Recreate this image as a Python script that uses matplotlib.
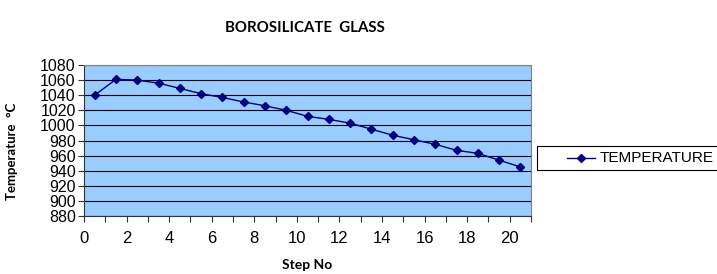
import matplotlib
matplotlib.use("Agg")
import matplotlib.pyplot as plt
from matplotlib.lines import Line2D
from matplotlib.patches import Rectangle
import numpy as np

# data
step_pos = np.arange(21) + 0.5
temperature = [1040, 1061, 1060, 1056, 1049, 1042, 1037, 1031, 1026, 1020,
               1012, 1008, 1003, 995, 987, 981, 975, 967, 963, 954, 945]
y_ticks = list(range(880, 1081, 20))
x_labels = [0, 2, 4, 6, 8, 10, 12, 14, 16, 18, 20]
series_name = "TEMPERATURE"

W, H = 717, 274
fig = plt.figure(figsize=(W / 100, H / 100), dpi=100)
ax = fig.add_axes([84 / W, 1 - 216 / H, (531 - 84) / W, (216 - 65) / H])
ax.set_facecolor("#99CCFF")

line_color = "#000080"
ax.plot(step_pos, temperature, color=line_color, linewidth=1,
        marker="D", markersize=4, label=series_name)

ax.set_xlim(0, 21)
ax.set_ylim(880, 1080)
ax.set_yticks(y_ticks)
ax.set_xticks(range(22))
ax.set_xticklabels([str(i) if i in x_labels else "" for i in range(22)])
ax.yaxis.grid(True, color="black", linewidth=0.8)
ax.set_axisbelow(True)
ax.tick_params(axis="both", direction="out", length=4, width=0.8,
               color="#333333")
ax.tick_params(axis="x", pad=7, labelsize=12)
ax.tick_params(axis="y", pad=2, labelsize=11.5)
for lbl in ax.get_xticklabels() + ax.get_yticklabels():
    lbl.set_fontfamily("Liberation Sans")

for side in ["top", "right"]:
    ax.spines[side].set_color("#808080")
for side in ["left", "bottom"]:
    ax.spines[side].set_color("#333333")

ax.set_ylabel("Temperature  °C", fontfamily="Lato", fontweight="bold",
              fontsize=9.5)
ax.yaxis.set_label_coords(-0.148, 0.43)
ax.set_xlabel("Step No", fontfamily="Lato", fontweight="bold", fontsize=10,
              labelpad=9)
fig.text(305 / W, 1 - 28 / H, "BOROSILICATE  GLASS", ha="center", va="center",
         fontfamily="Lato", fontweight="bold", fontsize=10.8)

# legend box drawn like the spreadsheet one (runs off the right edge)
fig.patches.append(Rectangle((537 / W, 1 - 170 / H), 200 / W, 24 / H,
                             transform=fig.transFigure, fill=False,
                             edgecolor="black", linewidth=0.8))
fig.add_artist(Line2D([567 / W, 595 / W], [1 - 158 / H] * 2,
                      transform=fig.transFigure, color=line_color,
                      linewidth=1))
fig.add_artist(Line2D([581 / W], [1 - 158 / H], transform=fig.transFigure,
                      color=line_color, marker="D", markersize=4))
fig.text(600 / W, 1 - 158 / H, series_name, ha="left", va="center",
         fontfamily="Liberation Sans", fontsize=11)

fig.savefig("out.png", dpi=100)
